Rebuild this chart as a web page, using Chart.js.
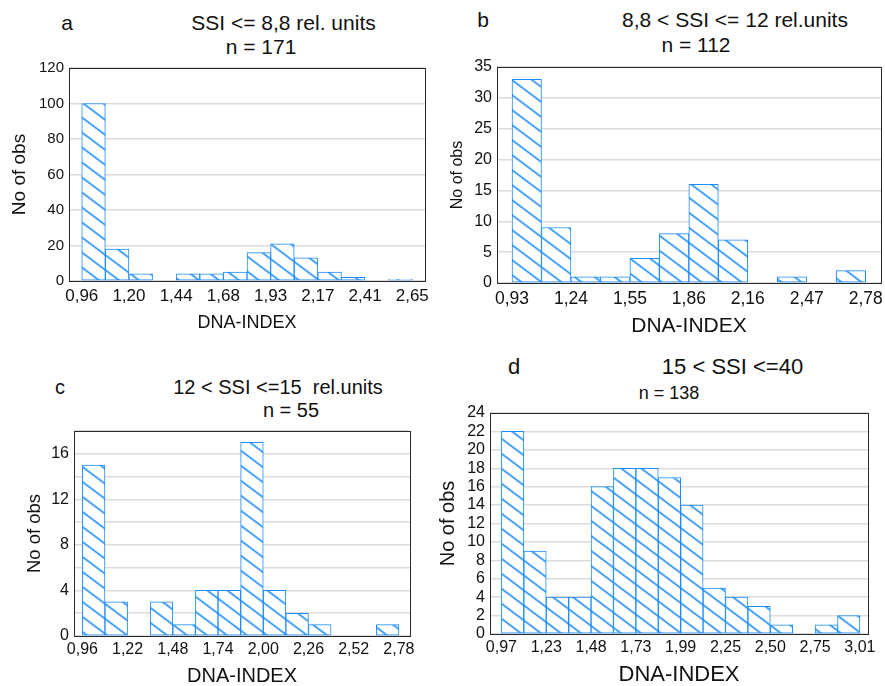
<!DOCTYPE html>
<html lang="en">
<head>
<meta charset="UTF-8">
<title>DNA-INDEX histograms by SSI</title>
<style>
  body { margin: 0; background: #fff; width: 885px; height: 686px; overflow: hidden; position: relative;
         font-family: "Liberation Sans", Arial, sans-serif; color: #111; }
  .panel { position: absolute; }
  .txt { position: absolute; white-space: pre; line-height: 1; transform: translateX(-50%); }
</style>
</head>
<body>
<!-- panel titles, top = baseline - 0.8465 * font-size -->
<div class="txt" style="left:67px;top:11.5px;font-size:21px">a</div>
<div class="txt" style="left:283.5px;top:11.5px;font-size:21px">SSI &lt;= 8,8 rel. units</div>
<div class="txt" style="left:261px;top:35.5px;font-size:21px">n = 171</div>

<div class="txt" style="left:483px;top:9px;font-size:21px">b</div>
<div class="txt" style="left:735px;top:9px;font-size:21px">8,8 &lt; SSI &lt;= 12 rel.units</div>
<div class="txt" style="left:696px;top:34px;font-size:21px">n = 112</div>

<div class="txt" style="left:60px;top:377px;font-size:20px">c</div>
<div class="txt" style="left:278px;top:377px;font-size:20px">12 &lt; SSI &lt;=15  rel.units</div>
<div class="txt" style="left:291px;top:400.4px;font-size:20px">n = 55</div>

<div class="txt" style="left:514px;top:356.4px;font-size:22px">d</div>
<div class="txt" style="left:732.5px;top:356.4px;font-size:22px">15 &lt; SSI &lt;=40</div>
<div class="txt" style="left:669px;top:384px;font-size:18px">n = 138</div>

<div class="panel" style="left:0;top:56px;width:440px;height:284px"><canvas id="chartA"></canvas></div>
<div class="panel" style="left:440px;top:56px;width:445px;height:284px"><canvas id="chartB"></canvas></div>
<div class="panel" style="left:0;top:420px;width:440px;height:266px"><canvas id="chartC"></canvas></div>
<div class="panel" style="left:430px;top:400px;width:455px;height:286px"><canvas id="chartD"></canvas></div>

<script src="https://cdn.jsdelivr.net/npm/chart.js@4"></script>
<script>
// counts per bin
const countsA = [100, 18, 4, 0, 4, 4, 5, 16, 21, 13, 5, 2, 0, 1];
const countsB = [33, 9, 1, 1, 4, 8, 16, 7, 0, 1, 0, 2];
const countsC = [15, 3, 0, 3, 1, 4, 4, 17, 4, 2, 1, 0, 0, 1];
const countsD = [22, 9, 4, 4, 16, 18, 18, 17, 14, 5, 4, 3, 1, 0, 1, 2];

// x labels sit on every second bin edge
const ticksA = ['0,96', '1,20', '1,44', '1,68', '1,93', '2,17', '2,41', '2,65'];
const ticksB = ['0,93', '1,24', '1,55', '1,86', '2,16', '2,47', '2,78'];
const ticksC = ['0,96', '1,22', '1,48', '1,74', '2,00', '2,26', '2,52', '2,78'];
const ticksD = ['0,97', '1,23', '1,48', '1,73', '1,99', '2,25', '2,50', '2,75', '3,01'];

Chart.defaults.font.family = '"Liberation Sans", Arial, sans-serif';
Chart.defaults.color = '#111';

// diagonal hatch like the original fill
function hatch() {
    const c = document.createElement('canvas');
    c.width = 20; c.height = 15;
    const g = c.getContext('2d');
    g.fillStyle = '#fff';
    g.fillRect(0, 0, 20, 15);
    g.strokeStyle = '#4aa3fa';
    g.lineWidth = 2;
    for (let k = -1; k <= 1; k++) {
        g.beginPath();
        g.moveTo(-2, k * 15 - 1.5);
        g.lineTo(22, k * 15 + 16.5);
        g.stroke();
    }
    return g.createPattern(c, 'repeat');
}

// box around the plot area
const frame = {
    id: 'frame',
    afterDatasetsDraw(chart) {
        const { ctx, chartArea: a } = chart;
        ctx.save();
        ctx.strokeStyle = '#2a2a2a';
        ctx.lineWidth = 1;
        ctx.strokeRect(Math.round(a.left) + 0.5, Math.round(a.top) + 0.5,
                       Math.round(a.right - a.left), Math.round(a.bottom - a.top));
        ctx.restore();
    }
};

function histogram(id, counts, tickLabels, o) {
    return new Chart(document.getElementById(id), {
        type: 'bar',
        data: {
            datasets: [{
                data: counts.map((v, i) => ({ x: i + 0.5, y: v })),
                backgroundColor: hatch(),
                borderColor: '#1a8cff',
                borderWidth: 1,
                borderSkipped: false,
                barPercentage: 1,
                categoryPercentage: 1
            }]
        },
        options: {
            responsive: true,
            maintainAspectRatio: false,
            animation: false,
            layout: { padding: o.pad },
            plugins: { legend: { display: false }, tooltip: { enabled: false } },
            scales: {
                x: {
                    type: 'linear', min: o.xMin, max: o.xMax, offset: false,
                    grid: { display: false, offset: false, drawTicks: false },
                    border: { display: false },
                    afterBuildTicks: s => { s.ticks = tickLabels.map((t, i) => ({ value: i * 2 })); },
                    ticks: {
                        autoSkip: false, maxRotation: 0, padding: o.xTickPad,
                        font: { size: o.xTickSize },
                        callback: (v, i) => tickLabels[i]
                    },
                    title: {
                        display: true, text: 'DNA-INDEX',
                        font: { size: o.xTitleSize, lineHeight: 1 },
                        padding: { top: 0, bottom: o.xTitlePad }
                    },
                    afterFit: s => { s.height = o.xAxisH; s.paddingLeft = 0; s.paddingRight = 0; }
                },
                y: {
                    min: 0, max: o.yMax,
                    grid: { color: '#dcdcdc', lineWidth: 1.5, drawTicks: false },
                    border: { display: false },
                    ticks: {
                        stepSize: o.yStep, padding: 5, autoSkip: false,
                        font: { size: o.yTickSize },
                        callback: v => (v % o.yLabelEvery === 0 ? v : '')
                    },
                    title: {
                        display: true, text: 'No of obs',
                        font: { size: o.yTitleSize, lineHeight: 1 },
                        padding: { top: o.yTitlePad, bottom: 0 }
                    },
                    afterFit: s => { s.width = o.yAxisW; s.paddingTop = 0; s.paddingBottom = 0; }
                }
            }
        },
        plugins: [frame]
    });
}

histogram('chartA', countsA, ticksA, {
    pad: { top: 12, right: 15, left: 0, bottom: 0 }, yAxisW: 69, xAxisH: 59,
    xMin: -0.54, xMax: 14.54, yMax: 120, yStep: 20, yLabelEvery: 20,
    xTickSize: 17, yTickSize: 15, xTickPad: 5,
    xTitleSize: 18, xTitlePad: 8, yTitleSize: 19, yTitlePad: 10.5
});
histogram('chartB', countsB, ticksB, {
    pad: { top: 11, right: 4, left: 0, bottom: 0 }, yAxisW: 57, xAxisH: 57,
    xMin: -0.51, xMax: 12.52, yMax: 35, yStep: 5, yLabelEvery: 5,
    xTickSize: 17.5, yTickSize: 16, xTickPad: 6,
    xTitleSize: 21, xTitlePad: 3.5, yTitleSize: 16, yTitlePad: 10
});
histogram('chartC', countsC, ticksC, {
    pad: { top: 11, right: 30, left: 0, bottom: 0 }, yAxisW: 74, xAxisH: 50,
    xMin: -0.37, xMax: 14.49, yMax: 18, yStep: 2, yLabelEvery: 4,
    xTickSize: 16, yTickSize: 16, xTickPad: 3.6,
    xTitleSize: 20, xTitlePad: 0, yTitleSize: 18.5, yTitlePad: 25.75
});
histogram('chartD', countsD, ticksD, {
    pad: { top: 13, right: 17, left: 0, bottom: 0 }, yAxisW: 60, xAxisH: 52,
    xMin: -0.51, xMax: 16.36, yMax: 24, yStep: 2, yLabelEvery: 2,
    xTickSize: 16, yTickSize: 16, xTickPad: 4,
    xTitleSize: 22, xTitlePad: 0, yTitleSize: 20, yTitlePad: 8
});
</script>
</body>
</html>
